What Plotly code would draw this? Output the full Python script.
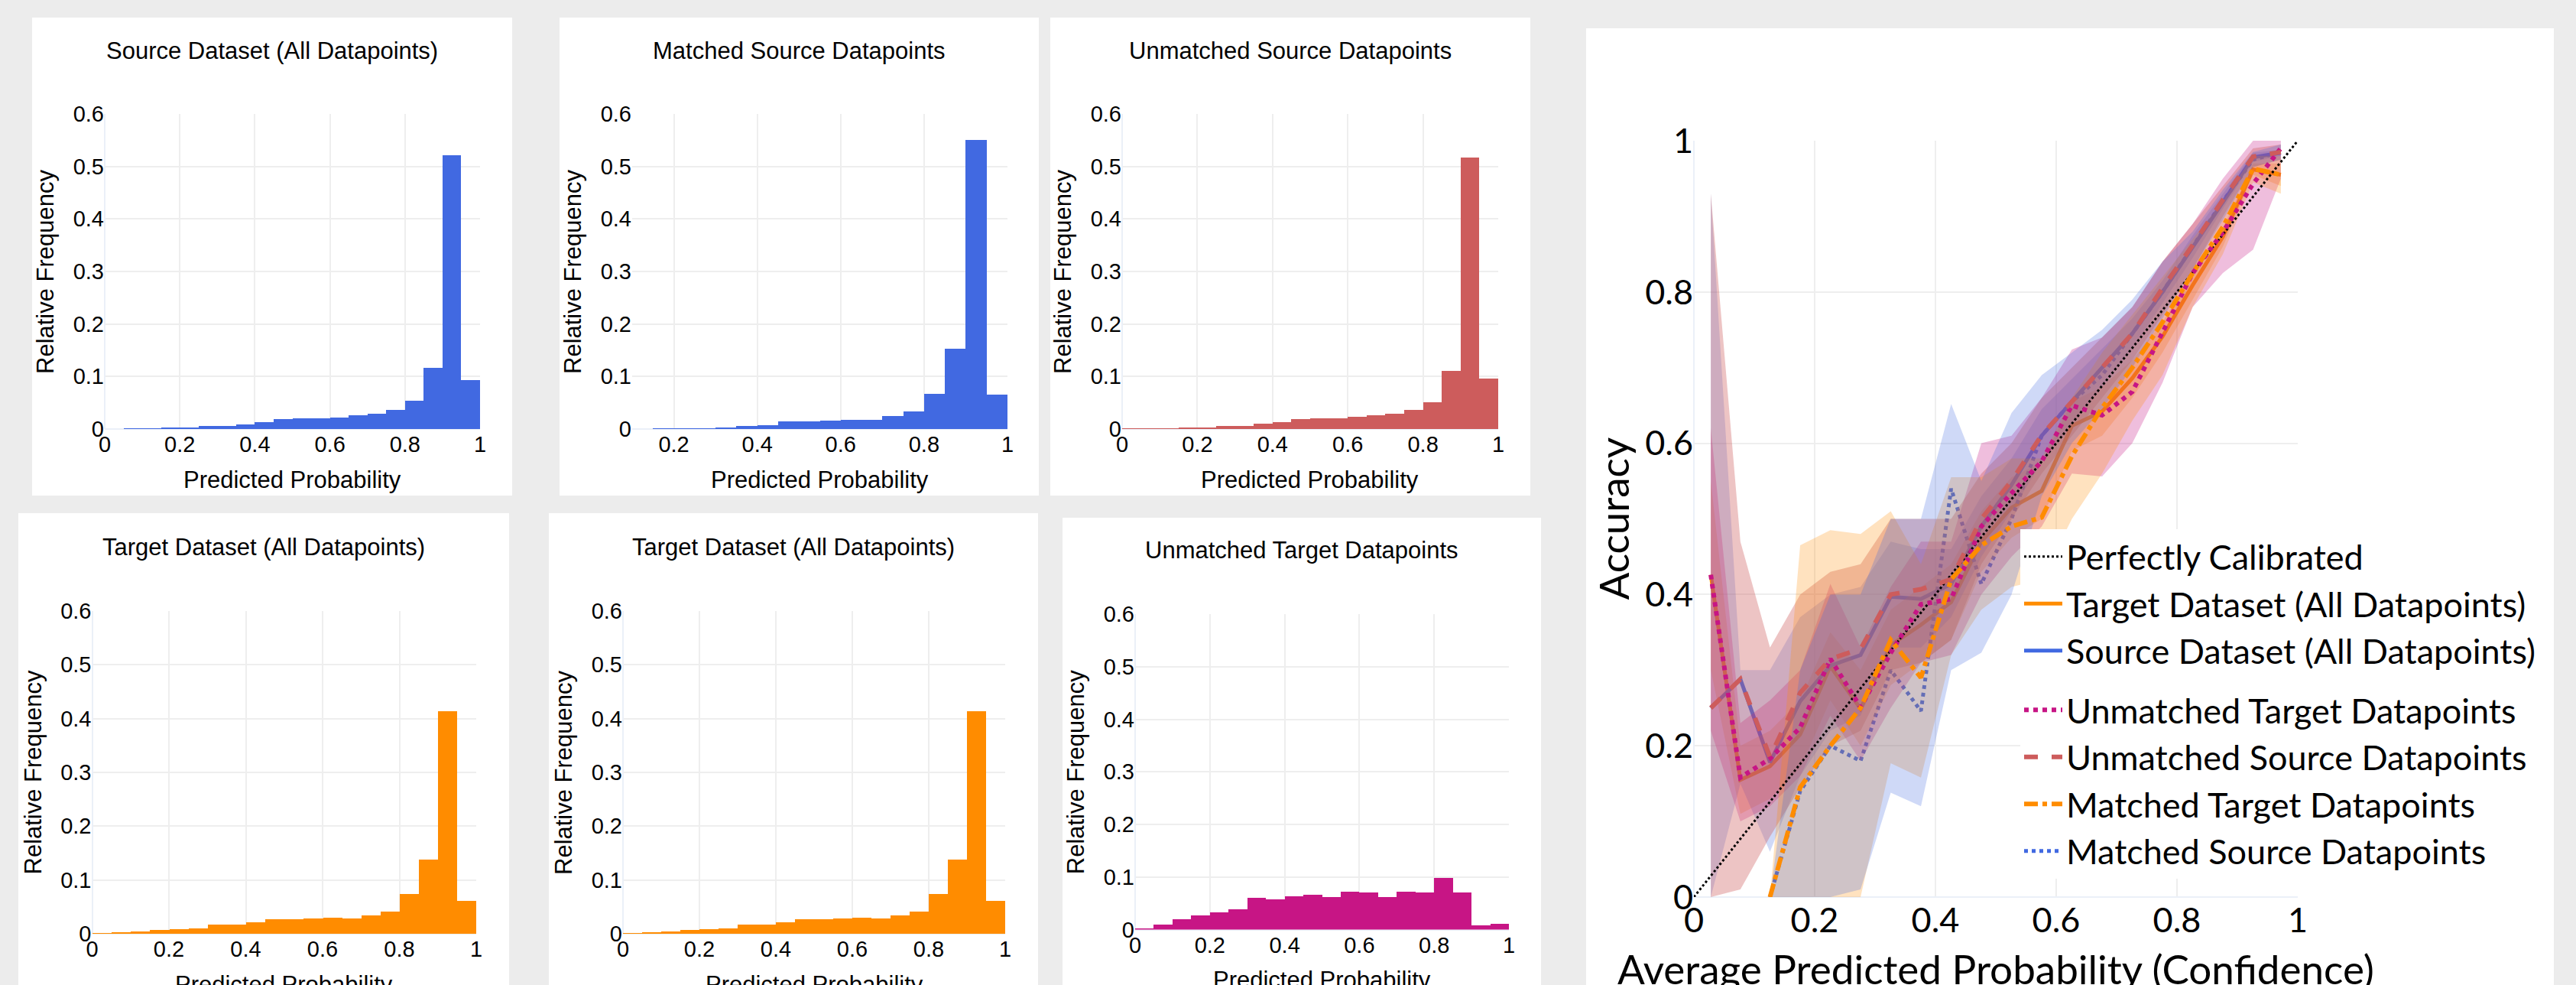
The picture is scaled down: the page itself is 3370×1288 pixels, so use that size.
import plotly.graph_objects as go

# ---------------- data ----------------
BIN_LEFT = [0.00, 0.05, 0.10, 0.15, 0.20, 0.25, 0.30, 0.35, 0.40, 0.45,
            0.50, 0.55, 0.60, 0.65, 0.70, 0.75, 0.80, 0.85, 0.90, 0.95]

src_all_freq = [0.0, 0.001, 0.001, 0.0025, 0.0025, 0.006, 0.006, 0.0085, 0.0135, 0.019,
                0.021, 0.021, 0.0225, 0.0257, 0.0288, 0.036, 0.054, 0.117, 0.522, 0.0925]
matched_src_freq = [0.0, 0.0, 0.0, 0.001, 0.001, 0.001, 0.0025, 0.0055, 0.008, 0.0147,
                    0.0147, 0.0165, 0.0178, 0.0178, 0.0245, 0.033, 0.0668, 0.1526, 0.551, 0.065]
unmatched_src_freq = [0.0003, 0.0008, 0.0008, 0.002, 0.003, 0.0055, 0.0055, 0.0104, 0.0135, 0.019,
                      0.021, 0.021, 0.0227, 0.0257, 0.0288, 0.036, 0.0515, 0.111, 0.5165, 0.0956]
tgt_all_freq = [0.0005, 0.0029, 0.0046, 0.0075, 0.0087, 0.0104, 0.0174, 0.0174, 0.0214, 0.0266,
                0.0266, 0.0284, 0.0301, 0.0284, 0.0347, 0.0411, 0.0741, 0.1384, 0.4134, 0.0608]
unmatched_tgt_freq = [0.0012, 0.0095, 0.0196, 0.0273, 0.0332, 0.038, 0.061, 0.0575, 0.064, 0.0658,
                      0.0622, 0.0717, 0.0699, 0.0622, 0.0717, 0.0699, 0.0978, 0.0699, 0.0077, 0.0107]

CONF = [0.028, 0.077, 0.126, 0.176, 0.226, 0.276, 0.326, 0.376, 0.426, 0.476,
        0.526, 0.576, 0.626, 0.676, 0.726, 0.776, 0.826, 0.876, 0.926, 0.972]

tgt_all_acc = [0.426, 0.155, 0.173, 0.215, 0.305, 0.249, 0.333, 0.36, 0.39, 0.47,
               0.515, 0.537, 0.623, 0.642, 0.686, 0.741, 0.809, 0.873, 0.962, 0.955]
tgt_all_lo = [0.30, 0.11, 0.13, 0.17, 0.26, 0.20, 0.28, 0.31, 0.34, 0.43,
              0.475, 0.50, 0.59, 0.61, 0.66, 0.72, 0.79, 0.86, 0.955, 0.94]
tgt_all_hi = [0.55, 0.20, 0.22, 0.26, 0.35, 0.30, 0.38, 0.41, 0.44, 0.51,
              0.555, 0.575, 0.655, 0.675, 0.71, 0.76, 0.825, 0.885, 0.97, 0.97]

src_all_acc = [0.25, 0.288, 0.178, 0.259, 0.306, 0.32, 0.397, 0.394, 0.414, 0.49,
               0.545, 0.61, 0.655, 0.70, 0.745, 0.80, 0.86, 0.92, 0.978, 0.984]
src_all_lo = [0.0, 0.15, 0.06, 0.16, 0.22, 0.24, 0.33, 0.33, 0.37, 0.45,
              0.51, 0.575, 0.625, 0.675, 0.725, 0.785, 0.845, 0.91, 0.972, 0.98]
src_all_hi = [0.93, 0.30, 0.30, 0.37, 0.40, 0.41, 0.47, 0.46, 0.46, 0.53,
              0.58, 0.645, 0.685, 0.725, 0.765, 0.815, 0.875, 0.93, 0.984, 0.988]

unm_tgt_acc = [0.426, 0.158, 0.183, 0.224, 0.315, 0.251, 0.323, 0.387, 0.394, 0.49,
               0.534, 0.576, 0.65, 0.637, 0.668, 0.748, 0.825, 0.879, 0.943, 0.99]
unm_tgt_lo = [0.22, 0.10, 0.12, 0.16, 0.24, 0.18, 0.25, 0.31, 0.32, 0.40,
              0.45, 0.49, 0.56, 0.556, 0.60, 0.68, 0.78, 0.825, 0.856, 0.95]
unm_tgt_hi = [0.62, 0.23, 0.26, 0.30, 0.414, 0.33, 0.41, 0.47, 0.47, 0.60,
              0.61, 0.66, 0.724, 0.74, 0.78, 0.84, 0.89, 0.95, 1.0, 1.0]

unm_src_acc = [0.25, 0.288, 0.185, 0.27, 0.315, 0.328, 0.40, 0.407, 0.42, 0.50,
               0.55, 0.611, 0.655, 0.70, 0.745, 0.805, 0.862, 0.922, 0.979, 0.985]
unm_src_lo = [0.0, 0.01, 0.08, 0.145, 0.20, 0.22, 0.30, 0.31, 0.34, 0.44,
              0.50, 0.56, 0.61, 0.66, 0.71, 0.77, 0.83, 0.90, 0.965, 0.975]
unm_src_hi = [0.93, 0.47, 0.33, 0.40, 0.43, 0.44, 0.50, 0.50, 0.50, 0.56,
              0.60, 0.66, 0.70, 0.74, 0.78, 0.84, 0.89, 0.94, 0.99, 0.995]

mat_tgt_acc = [None, None, 0.0, 0.145, 0.2, 0.25, 0.34, 0.29, 0.42, 0.465,
               0.49, 0.502, 0.583, 0.647, 0.70, 0.76, 0.825, 0.886, 0.963, 0.955]
mat_tgt_lo = [None, None, 0.0, 0.0, 0.0, 0.0, 0.177, 0.158, 0.32, 0.38,
              0.41, 0.42, 0.50, 0.56, 0.63, 0.69, 0.78, 0.85, 0.945, 0.93]
mat_tgt_hi = [None, None, 0.0, 0.465, 0.485, 0.48, 0.51, 0.44, 0.555, 0.555,
              0.58, 0.58, 0.66, 0.72, 0.77, 0.82, 0.87, 0.92, 0.98, 0.98]

mat_src_acc = [None, None, 0.0, 0.14, 0.2, 0.18, 0.30, 0.246, 0.54, 0.414,
               0.50, 0.61, 0.655, 0.69, 0.745, 0.80, 0.86, 0.92, 0.975, 0.985]
mat_src_lo = [None, None, 0.0, 0.0, 0.0, 0.01, 0.138, 0.12, 0.30, 0.323,
              0.40, 0.53, 0.60, 0.645, 0.70, 0.765, 0.83, 0.895, 0.965, 0.975]
mat_src_hi = [None, None, 0.0, 0.30, 0.40, 0.40, 0.50, 0.50, 0.652, 0.55,
              0.64, 0.69, 0.72, 0.75, 0.79, 0.84, 0.88, 0.935, 0.985, 0.995]

# ---------------- layout helpers ----------------
W, H = 3370, 1288


def fx(px):
    return px / W


def fy(py):
    return 1 - py / H


ROYAL = "#4169E1"
RED = "#CD5C5C"
ORANGE = "#FF8C00"
MVR = "#C71585"

HFONT = "Liberation Sans, Arial, sans-serif"
CFONT = "Lato, sans-serif"
GRID = "#EEEEEE"
ZERO = "#EBF0F8"

fig = go.Figure()
annotations = []
shapes = []

# white panels
panels = [(42, 23, 670, 648), (732, 23, 1359, 648), (1374, 23, 2002, 648),
          (24, 671, 666, 1300), (718, 671, 1358, 1300), (1390, 677, 2016, 1300),
          (2075, 37, 3341, 1300)]
for (x0, y0, x1, y1) in panels:
    shapes.append(dict(type="rect", xref="paper", yref="paper",
                       x0=fx(x0), x1=fx(x1), y0=fy(y1), y1=fy(y0),
                       fillcolor="white", line=dict(width=0), layer="below"))

hists = [
    (src_all_freq, ROYAL, "Source Dataset (All Datapoints)", [0, 1], (137, 149, 628, 561), 66.5, (42, 670)),
    (matched_src_freq, ROYAL, "Matched Source Datapoints", [0.1, 1], (827, 149, 1318, 561), 66.5, (732, 1359)),
    (unmatched_src_freq, RED, "Unmatched Source Datapoints", [0, 1], (1468, 149, 1960, 561), 66.5, (1374, 2002)),
    (tgt_all_freq, ORANGE, "Target Dataset (All Datapoints)", [0, 1], (120.5, 799, 623, 1221), 715, (24, 666)),
    (tgt_all_freq, ORANGE, "Target Dataset (All Datapoints)", [0, 1], (815, 799, 1315, 1221), 715, (718, 1358)),
    (unmatched_tgt_freq, MVR, "Unmatched Target Datapoints", [0, 1], (1485, 803, 1974, 1215.5), 720, (1390, 2016)),
]

layout_axes = {}
for i, (vals, col, title, xr, box, ty, pan) in enumerate(hists, start=1):
    xa = "x" if i == 1 else f"x{i}"
    ya = "y" if i == 1 else f"y{i}"
    x0, y0, x1, y1 = box
    fig.add_trace(go.Bar(x=BIN_LEFT, y=vals, width=0.05, offset=0,
                         marker=dict(color=col, line=dict(width=0)),
                         xaxis=xa, yaxis=ya, showlegend=False))
    layout_axes["xaxis" if i == 1 else f"xaxis{i}"] = dict(
        domain=[fx(x0), fx(x1)], range=xr, anchor=ya, dtick=0.2, tick0=0, automargin=False,
        showgrid=True, gridcolor=GRID, gridwidth=2, zeroline=True, zerolinecolor=ZERO, zerolinewidth=2,
        showline=False, ticks="", tickfont=dict(family=HFONT, size=29, color="black"))
    layout_axes["yaxis" if i == 1 else f"yaxis{i}"] = dict(
        domain=[fy(y1), fy(y0)], range=[0, 0.6], anchor=xa, dtick=0.1, tick0=0, automargin=False,
        showgrid=True, gridcolor=GRID, gridwidth=2, zeroline=True, zerolinecolor=ZERO, zerolinewidth=2,
        showline=False, ticks="", tickfont=dict(family=HFONT, size=29, color="black"))
    annotations.append(dict(text=title, xref="paper", yref="paper",
                            x=fx((pan[0] + pan[1]) / 2), y=fy(ty), xanchor="center", yanchor="middle",
                            showarrow=False, font=dict(family=HFONT, size=31, color="black")))
    annotations.append(dict(text="Relative Frequency", xref="paper", yref="paper",
                            x=fx(x0 - 78), y=fy((y0 + y1) / 2), xanchor="center", yanchor="middle",
                            textangle=-90, showarrow=False,
                            font=dict(family=HFONT, size=31, color="black")))
    annotations.append(dict(text="Predicted Probability", xref="paper", yref="paper",
                            x=fx((x0 + x1) / 2), y=fy(y1 + 66), xanchor="center", yanchor="middle",
                            showarrow=False, font=dict(family=HFONT, size=31, color="black")))

# ---------------- calibration panel ----------------
series = {
    "tgt_all": (tgt_all_acc, tgt_all_lo, tgt_all_hi, "Target Dataset (All Datapoints)", ORANGE, "solid", 5, "g1",
                "rgba(255,140,0,0.25)", 2),
    "src_all": (src_all_acc, src_all_lo, src_all_hi, "Source Dataset (All Datapoints)", ROYAL, "solid", 5, "g1",
                "rgba(65,105,225,0.25)", 3),
    "unm_tgt": (unm_tgt_acc, unm_tgt_lo, unm_tgt_hi, "Unmatched Target Datapoints", MVR, "dot", 6, "g2",
                "rgba(199,21,133,0.28)", 4),
    "unm_src": (unm_src_acc, unm_src_lo, unm_src_hi, "Unmatched Source Datapoints", RED, "dash", 6, "g2",
                "rgba(205,92,92,0.36)", 5),
    "mat_tgt": (mat_tgt_acc, mat_tgt_lo, mat_tgt_hi, "Matched Target Datapoints", ORANGE, "dashdot", 6, "g2",
                "rgba(255,140,0,0.25)", 6),
    "mat_src": (mat_src_acc, mat_src_lo, mat_src_hi, "Matched Source Datapoints", ROYAL, "dot", 5, "g2",
                "rgba(65,105,225,0.25)", 7),
}


def add_line(key):
    acc, lo, hi, name, col, dash, w, grp, fill, rank = series[key]
    fig.add_trace(go.Scatter(x=CONF, y=acc, mode="lines", name=name,
                             line=dict(color=col, dash=dash, width=w),
                             legendgroup=grp, legendrank=rank, xaxis="x7", yaxis="y7"))


def add_band(key):
    acc, lo, hi, name, col, dash, w, grp, fill, rank = series[key]
    xs = [c for c, l in zip(CONF, lo) if l is not None]
    los = [l for l in lo if l is not None]
    his = [h for h in hi if h is not None]
    fig.add_trace(go.Scatter(x=xs + xs[::-1], y=his + los[::-1], fill="toself",
                             fillcolor=fill, line=dict(width=0), mode="lines",
                             hoverinfo="skip", showlegend=False, legendgroup=grp,
                             xaxis="x7", yaxis="y7"))


# lines seen through the bands
for k in ["tgt_all", "src_all", "mat_src"]:
    add_line(k)
for k in ["tgt_all", "src_all", "unm_tgt", "unm_src", "mat_tgt", "mat_src"]:
    add_band(k)
fig.add_trace(go.Scatter(x=[0, 1], y=[0, 1], mode="lines", name="Perfectly Calibrated",
                         line=dict(color="black", dash="dot", width=3),
                         legendgroup="g1", legendrank=1, xaxis="x7", yaxis="y7"))
for k in ["unm_tgt", "unm_src", "mat_tgt"]:
    add_line(k)

layout_axes["xaxis7"] = dict(domain=[fx(2216), fx(3006)], range=[0, 1], anchor="y7", dtick=0.2, tick0=0,
                             automargin=False, showgrid=True, gridcolor=GRID, gridwidth=2,
                             zeroline=True, zerolinecolor=ZERO, zerolinewidth=2, showline=False, ticks="",
                             tickfont=dict(family=CFONT, size=45, color="black"))
layout_axes["yaxis7"] = dict(domain=[fy(1173), fy(184)], range=[0, 1], anchor="x7", dtick=0.2, tick0=0,
                             automargin=False, showgrid=True, gridcolor=GRID, gridwidth=2,
                             zeroline=True, zerolinecolor=ZERO, zerolinewidth=2, showline=False, ticks="",
                             tickfont=dict(family=CFONT, size=45, color="black"))

annotations.append(dict(text="Accuracy", xref="paper", yref="paper", x=fx(2110), y=fy(678.5),
                        xanchor="center", yanchor="middle", textangle=-90, showarrow=False,
                        font=dict(family=CFONT, size=53, color="black")))
annotations.append(dict(text="Average Predicted Probability (Confidence)", xref="paper", yref="paper",
                        x=fx(2611), y=fy(1266), xanchor="center", yanchor="middle", showarrow=False,
                        font=dict(family=CFONT, size=53, color="black")))

fig.update_layout(
    template="plotly_white",
    width=W, height=H,
    autosize=False,
    margin=dict(l=0, r=0, t=0, b=0, pad=0, autoexpand=False),
    paper_bgcolor="#ececec",
    plot_bgcolor="white",
    bargap=0,
    showlegend=True,
    legend=dict(x=fx(2643), y=fy(692), xanchor="left", yanchor="top",
                bgcolor="white", borderwidth=0, traceorder="grouped", tracegroupgap=16,
                font=dict(family=CFONT, size=45, color="black"), itemwidth=50),
    annotations=annotations,
    shapes=shapes,
    **layout_axes,
)

fig.write_html(
    "out.html",
    config={"displayModeBar": False},
    post_script="document.body.style.margin='0px';document.body.style.overflow='hidden';"
                "document.body.style.background='#ececec';",
)
